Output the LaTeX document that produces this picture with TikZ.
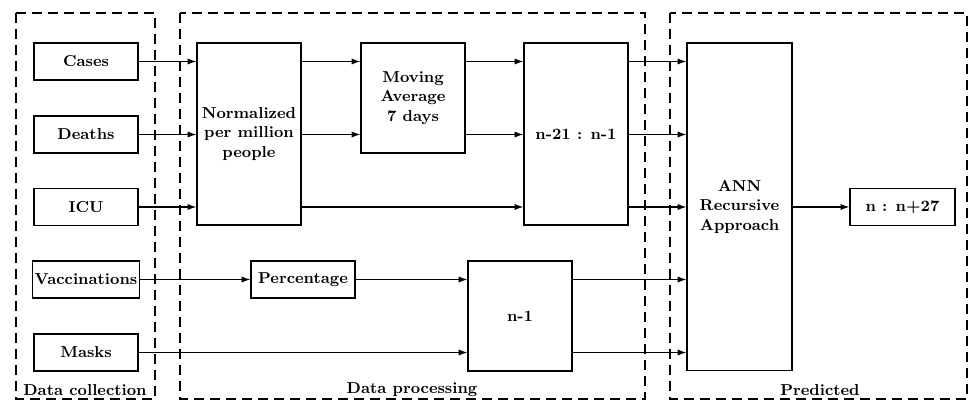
\documentclass[tikz,border=0pt]{standalone}
\usetikzlibrary{arrows.meta,calc}

\tikzset{
	blk/.style={draw, line width=0.6pt, align=center, font=\bfseries\small, inner sep=1pt, minimum width=2.08cm},
	flow/.style={-{Latex[length=5pt,width=3.5pt]}, line width=0.7pt},
	line/.style={line width=0.7pt},
	stage/.style={dash pattern=on 0.2cm off 0.12cm, line width=0.8pt},
	stagelbl/.style={font=\bfseries\small, inner sep=1pt}
}

\begin{document}
\begin{tikzpicture}[x=0.02cm,y=-0.02cm]
		\useasboundingbox (0,0) rectangle (969,401);
		
		% stages
		\draw [stage] (16,13) rectangle (155,399);
		\draw [stage] (180,13) rectangle (645,399);
		\draw [stage] (670,13) rectangle (967,399);
		
		\node [stagelbl] (collect) at (85,390) {Data collection};
		\node [stagelbl] (process) at (412,390) {Data processing};
		\node [stagelbl] (predict) at (820,390) {Predicted};
		
		
		% inputs
		\node [blk, minimum height=0.74cm] (cases) at (86,61.5) {Cases};
		\node [blk, minimum height=0.74cm] (deaths) at (86,134.5) {Deaths};
		\node [blk, minimum height=0.74cm] (icu) at (86,207) {ICU};
		\node [blk, minimum height=0.74cm] (vacc) at (86,279.5) {Vaccinations};
		\node [blk, minimum height=0.74cm] (masks) at (86,352.5) {Masks};
		
		
		% processing
		\node [blk, minimum height=3.64cm] (norm) at (249,134) {Normalized\\per million\\people};
		\node [blk, minimum height=2.2cm] (movavg) at (413,98) {Moving\\Average\\7 days};
		\node [blk, minimum height=3.64cm] (window) at (576,134) {n-21 : n-1};
		\node [blk, minimum height=0.74cm] (perc) at (303,279.5) {Percentage};
		\node [blk, minimum height=2.2cm] (lag) at (520,316) {n-1};
		
		
		% prediction
		\node [blk, minimum width=2.1cm, minimum height=6.56cm] (ann) at (739.5,207) {ANN\\Recursive\\Approach};
		\node [blk, minimum width=2.1cm, minimum height=0.74cm] (out) at (902.5,207) {n : n+27};
		
		
		\draw [flow] (cases.east) -- (cases -| norm.west);
		\draw [flow] (deaths.east) -- (deaths -| norm.west);
		\draw [flow] (icu.east) -- (icu -| norm.west);
		
		\draw [flow] (cases -| norm.east) -- (cases -| movavg.west);
		\draw [flow] (deaths -| norm.east) -- (deaths -| movavg.west);
		
		\draw [flow] (cases -| movavg.east) -- (cases -| window.west);
		\draw [flow] (deaths -| movavg.east) -- (deaths -| window.west);
		\draw [flow] (icu -| norm.east) -- (icu -| window.west);
		
		\draw [flow] (cases -| window.east) -- (cases -| ann.west);
		\draw [flow] (deaths -| window.east) -- (deaths -| ann.west);
		\draw [flow] (icu -| window.east) -- (icu -| ann.west);
		
		\draw [flow] (vacc.east) -- (perc.west);
		\draw [flow] (perc.east) -- (perc -| lag.west);
		\draw [flow] (masks.east) -- (masks -| lag.west);
		
		\draw [flow] (vacc -| lag.east) -- (vacc -| ann.west);
		\draw [flow] (masks -| lag.east) -- (masks -| ann.west);
		
		\draw [flow] (out -| ann.east) -- (out.west);
		
\end{tikzpicture}
\end{document}
